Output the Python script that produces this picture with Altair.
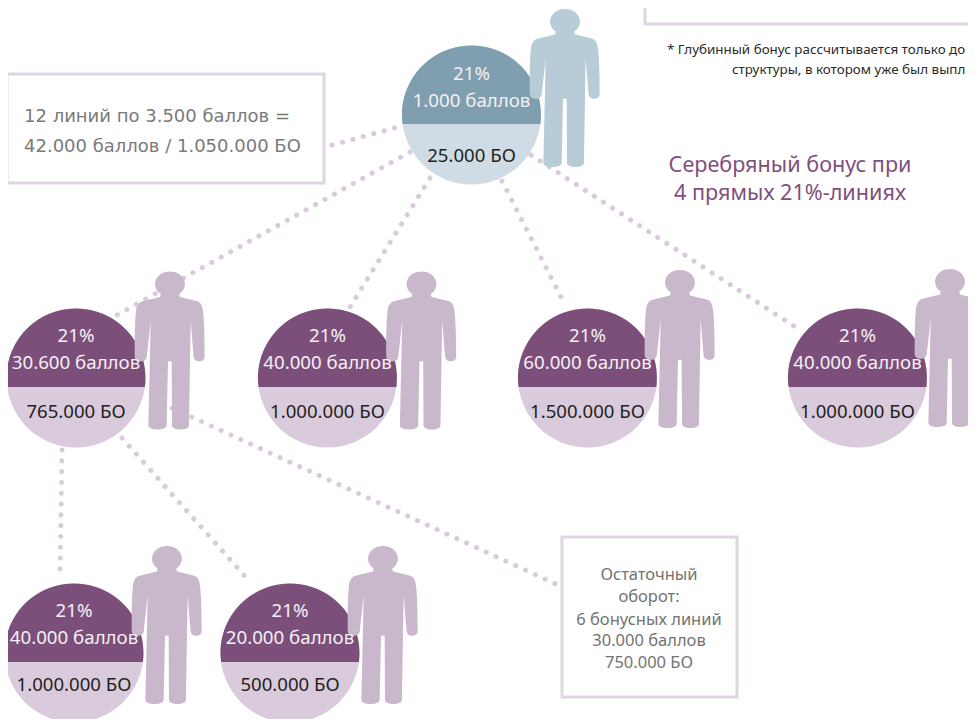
import altair as alt
import pandas as pd

# ---- page-pixel coordinate frame ----
W, H = 968, 719
X = alt.Scale(domain=[8, W], range=[0, W - 8])
Y = alt.Scale(domain=[8, H], range=[0, H - 8])

# ---- circles ----
circle_x = [471.5, 76, 327.5, 587.5, 857.5, 74, 290]
circle_y = [115, 378, 378, 378, 378, 653, 653]
circle_dark = ["#7f9fb0", "#7c4f7b", "#7c4f7b", "#7c4f7b", "#7c4f7b", "#7c4f7b", "#7c4f7b"]
circle_light = ["#cfdce5", "#d9cbdb", "#d9cbdb", "#d9cbdb", "#d9cbdb", "#d9cbdb", "#d9cbdb"]
CIRCLE_D = 139

# ---- people ----
person_x = [565, 170, 421.5, 680, 950, 167, 383]
person_y = [88, 350.5, 350.5, 349, 348, 625, 625]
person_color = ["#b7ccd6", "#c9b8cb", "#c9b8cb", "#c9b8cb", "#c9b8cb", "#c9b8cb", "#c9b8cb"]
PERSON_H = 158

# ---- dotted links ----
link_x = [332, 410, 430, 502, 531, 172, 62, 122]
link_y = [145, 152, 178, 181, 155, 408, 450, 438]
link_x2 = [398, 117, 350, 565, 800, 558, 60, 250]
link_y2 = [127, 315, 307, 305, 330, 585, 578, 582]

# ---- frames ----
box_x = [645, 7, 562]
box_x2 = [1000, 324, 737]
box_y = [-20, 74, 537]
box_y2 = [24, 183, 697]

# ---- text ----
top_x = [471.5, 471.5, 76, 76, 327.5, 327.5, 587.5, 587.5, 857.5, 857.5, 74, 74, 290, 290]
top_y = [80, 107, 342, 369, 342, 369, 342, 369, 342, 369, 617, 644, 617, 644]
top_text = ["21%", "1.000 баллов", "21%", "30.600 баллов", "21%", "40.000 баллов", "21%", "60.000 баллов",
            "21%", "40.000 баллов", "21%", "40.000 баллов", "21%", "20.000 баллов"]
bo_x = [471.5, 76, 327.5, 587.5, 857.5, 74, 290]
bo_y = [162, 418, 418, 418, 418, 691, 691]
bo_text = ["25.000 БО", "765.000 БО", "1.000.000 БО", "1.500.000 БО", "1.000.000 БО", "1.000.000 БО", "500.000 БО"]

note_x = [649, 649, 649, 649, 649]
note_y = [580, 602, 625, 646, 668]
note_text = ["Остаточный", "оборот:", "6 бонусных линий", "30.000 баллов", "750.000 БО"]

side_x = [24, 24]
side_y = [122, 152]
side_text = ["12 линий по 3.500 баллов =", "42.000 баллов / 1.050.000 БО"]

foot_x = [667, 732]
foot_y = [54, 74]
foot_text = ["* Глубинный бонус рассчитывается только до", "структуры, в котором уже был выпл"]

head_x = [790, 790]
head_y = [172, 200]
head_text = ["Серебряный бонус при", "4 прямых 21%-линиях"]

# ---- glyphs ----
SEGMENT = "M-0.9915,0.13 A1,1 0 1,1 0.9915,0.13 Z"


def p(x, y):
    return f"{(x - 555) / 237.5:.4f},{(y - 264.5) / 237.5:.4f}"


PERSON = (
    "M" + p(527.4, 95) + " L" + p(525, 104) + " L" + p(475, 116)
    + " C" + p(460, 120) + " " + p(455, 130) + " " + p(453, 145)
    + " C" + p(449, 175) + " " + p(449, 230) + " " + p(449, 283)
    + " C" + p(449, 300) + " " + p(484, 303) + " " + p(485, 283)
    + " L" + p(497, 175) + " L" + p(490, 490)
    + " C" + p(490, 506) + " " + p(544, 506) + " " + p(545, 490)
    + " L" + p(549, 297) + " L" + p(560, 297) + " L" + p(561, 490)
    + " C" + p(562, 506) + " " + p(612, 506) + " " + p(612, 490)
    + " L" + p(617, 175) + " L" + p(626, 283)
    + " C" + p(628, 303) + " " + p(660, 300) + " " + p(659, 283)
    + " C" + p(659, 230) + " " + p(658, 175) + " " + p(654, 145)
    + " C" + p(652, 130) + " " + p(648, 120) + " " + p(635, 116)
    + " L" + p(585, 104) + " L" + p(582.6, 95)
    + " A0.1895,0.16 0 1,0 " + p(527.4, 95) + " Z"
)

circles = pd.DataFrame({"x": circle_x, "y": circle_y, "dark": circle_dark, "light": circle_light})
people = pd.DataFrame({"x": person_x, "y": person_y, "c": person_color})
links = pd.DataFrame({"x": link_x, "y": link_y, "x2": link_x2, "y2": link_y2})
boxes = pd.DataFrame({"x": box_x, "x2": box_x2, "y": box_y, "y2": box_y2})


def xy():
    return dict(x=alt.X("x:Q", scale=X, axis=None), y=alt.Y("y:Q", scale=Y, axis=None))


def label(xs, ys, texts, color, size, align="center", font="Noto Sans"):
    df = pd.DataFrame({"x": xs, "y": ys, "t": texts})
    return alt.Chart(df).mark_text(
        color=color, fontSize=size, align=align, baseline="alphabetic", font=font
    ).encode(text="t:N", **xy())


layers = [
    alt.Chart(links).mark_rule(
        color="#d9cbdb", strokeWidth=5, strokeCap="round", strokeDash=[0.1, 10.7]
    ).encode(x=alt.X("x:Q", scale=X, axis=None), y=alt.Y("y:Q", scale=Y, axis=None), x2="x2:Q", y2="y2:Q"),
    alt.Chart(boxes).mark_rect(fill="#ffffff", stroke="#e0d6e3", strokeWidth=3).encode(
        x=alt.X("x:Q", scale=X, axis=None), y=alt.Y("y:Q", scale=Y, axis=None), x2="x2:Q", y2="y2:Q"
    ),
    alt.Chart(circles).mark_point(shape="circle", filled=True, opacity=1, size=CIRCLE_D ** 2).encode(
        color=alt.Color("light:N", scale=None), **xy()
    ),
    alt.Chart(circles).mark_point(shape=SEGMENT, filled=True, opacity=1, size=CIRCLE_D ** 2).encode(
        color=alt.Color("dark:N", scale=None), **xy()
    ),
    alt.Chart(people).mark_point(shape=PERSON, filled=True, opacity=1, size=PERSON_H ** 2).encode(
        color=alt.Color("c:N", scale=None), **xy()
    ),
    label(top_x, top_y, top_text, "#f4eff4", 18.7),
    label(bo_x, bo_y, bo_text, "#231f20", 18.6),
    label(note_x, note_y, note_text, "#737373", 16.5),
    label(side_x, side_y, side_text, "#7a7a7a", 18, align="left", font="DejaVu Sans"),
    label(foot_x, foot_y, foot_text, "#2a2a2a", 13.4, align="left"),
    label(head_x, head_y, head_text, "#80507d", 21.6),
]

chart = alt.layer(*layers).properties(
    width=W - 8, height=H - 8, padding=0, autosize=alt.AutoSizeParams(type="none")
).configure_view(stroke=None)

chart.save("out.html", embed_options={"renderer": "svg", "actions": False})
